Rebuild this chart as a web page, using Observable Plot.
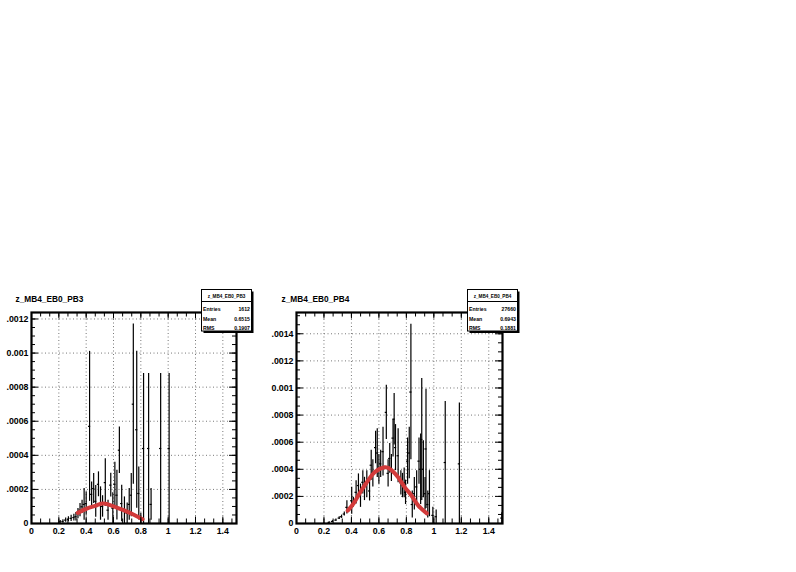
<!DOCTYPE html>
<html><head><meta charset="utf-8">
<script src="https://cdn.jsdelivr.net/npm/d3@7"></script>
<script src="https://cdn.jsdelivr.net/npm/@observablehq/plot@0.6"></script>
<style>
html,body{margin:0;padding:0;background:#fff;}
#canvas{position:relative;width:796px;height:572px;overflow:hidden;background:#fff;}
#canvas > svg{position:absolute;}
</style></head><body><div id="canvas"></div>
<script>
// ---------- axis ticks / labels ----------
const xTickValues = [0, 0.2, 0.4, 0.6, 0.8, 1, 1.2, 1.4];
const xTickLabels = ["0", "0.2", "0.4", "0.6", "0.8", "1", "1.2", "1.4"];
const pb3YTickValues = [0, 0.0002, 0.0004, 0.0006, 0.0008, 0.001, 0.0012];
const pb3YTickLabels = ["0", ".0002", ".0004", ".0006", ".0008", "0.001", ".0012"];
const pb4YTickValues = [0, 0.0002, 0.0004, 0.0006, 0.0008, 0.001, 0.0012, 0.0014];
const pb4YTickLabels = ["0", ".0002", ".0004", ".0006", ".0008", "0.001", ".0012", ".0014"];

// ---------- histogram z_MB4_EB0_PB3 ----------
const pb3X = [0.21,0.23,0.25,0.27,0.29,0.31,0.325,0.34,0.355,0.37,0.385,0.40,0.425,0.44,0.455,0.47,0.49,0.505,0.52,0.54,0.56,0.58,0.595,0.61,0.625,0.643,0.66,0.68,0.70,0.715,0.73,0.745,0.77,0.785,0.80,0.82,0.857,0.875,0.945,1.007];
const pb3Y = [0.000010,0.000012,0.000020,0.000025,0.000030,0.000035,0.000040,0.000058,0.000078,0.000098,0.000112,0.000117,0.00057,0.000171,0.000205,0.000130,0.000230,0.000117,0.000100,0.000240,0.000078,0.000225,0.000090,0.000230,0.000166,0.000430,0.000117,0.000078,0.000060,0.000112,0.000166,0.000700,0.000550,0.000176,0.000030,0.000440,0.000440,0.000112,0.000440,0.000440];
const pb3Err = [0.000008,0.00001,0.000012,0.000015,0.000018,0.00002,0.000025,0.00003,0.000039,0.000039,0.000093,0.000068,0.00044,0.000073,0.000088,0.000093,0.000073,0.000098,0.000063,0.00014,0.000059,0.00007,0.00009,0.00013,0.000146,0.000136,0.000107,0.000078,0.00006,0.000093,0.000127,0.00047,0.00046,0.000156,0.00003,0.00044,0.00044,0.000093,0.00044,0.00044];
const pb3FitX = [0.338,0.405,0.478,0.527,0.600,0.673,0.745,0.813];
const pb3FitY = [0.0000624,0.0000878,0.000107,0.000117,0.000101,0.000078,0.0000527,0.0000254];
const pb3Stats = [["Entries","1612"],["Mean","0.6515"],["RMS","0.1907"]];

// ---------- histogram z_MB4_EB0_PB4 ----------
const pb4X = [0.238,0.262,0.287,0.311,0.328,0.348,0.367,0.402,0.414,0.434,0.451,0.466,0.483,0.495,0.512,0.532,0.544,0.556,0.576,0.588,0.600,0.613,0.630,0.654,0.667,0.679,0.691,0.703,0.711,0.721,0.740,0.760,0.772,0.784,0.794,0.809,0.821,0.833,0.843,0.858,0.875,0.892,0.904,0.912,0.924,0.936,0.943,0.956,0.968,0.993,1.017,1.083,1.186,1.495];
const pb4Y = [0.000008,0.000015,0.000025,0.00004,0.00005,0.00007,0.000119,0.000168,0.000156,0.00023,0.00028,0.000205,0.000304,0.000255,0.00029,0.00024,0.00043,0.00037,0.00056,0.00052,0.0004,0.00044,0.00053,0.00082,0.00037,0.00048,0.00041,0.00063,0.00077,0.00056,0.0005,0.0003,0.00028,0.0003,0.00023,0.00046,0.00052,0.00097,0.00014,0.00022,0.00027,0.00046,0.0004,0.00062,0.0004,0.00022,0.00055,0.00014,0.00022,0.00006,0.00005,0.00045,0.00044,0.00004];
const pb4Err = [0.000005,0.000006,0.000008,0.00001,0.000012,0.000015,0.000049,0.0001,0.000037,0.000086,0.000086,0.000086,0.000086,0.000086,0.0001,0.000074,0.00011,0.0001,0.00012,0.00018,0.00011,0.0001,0.00018,0.0002,0.0001,0.00011,0.0001,0.00014,0.00019,0.00017,0.0002,0.00009,0.00009,0.00011,0.00009,0.00017,0.00019,0.0005,0.0001,0.00012,0.00012,0.00017,0.00026,0.00045,0.00021,0.00012,0.00044,0.0001,0.00017,0.00006,0.00005,0.00045,0.00045,0.00004];
const pb4FitX = [0.373,0.421,0.471,0.520,0.569,0.642,0.691,0.740,0.789,0.838,0.887,0.949];
const pb4FitY = [0.0000946,0.000156,0.000242,0.000316,0.000378,0.000415,0.000395,0.000341,0.000267,0.000205,0.000132,0.0000748];
const pb4Stats = [["Entries","27660"],["Mean","0.6943"],["RMS","0.1881"]];

const FONT = "'Liberation Sans', Arial, Helvetica, sans-serif";
const canvas = document.getElementById("canvas");

function panel(o) {
  const W = 265, H = 286, mL = 31, mR = o.mR, mT = 26, mB = 49;
  const fw = W - mL - mR, fh = H - mT - mB;
  const idx = d3.range(o.xs.length);
  const fidx = d3.range(o.fitX.length);
  const xMinor = d3.range(0, 1.5 + 1e-9, 0.2 / 3);
  const yMinor = d3.range(0, o.yMax + 1e-12, o.yMinorStep);
  const xGrid = xTickValues.filter(v => v > 0);
  const yGrid = o.yTicks.filter(v => v > 0);
  const hw = 0.008;
  const plot = Plot.plot({
    width: W, height: H,
    marginLeft: mL, marginRight: mR, marginTop: mT, marginBottom: mB,
    x: {domain: [0, 1.5], axis: null},
    y: {domain: [0, o.yMax], axis: null},
    style: {background: "transparent", fontFamily: FONT, overflow: "visible"},
    marks: [
      Plot.ruleX(xGrid, {x: d => d, stroke: "#777", strokeDasharray: "1,2.5"}),
      Plot.ruleY(yGrid, {y: d => d, stroke: "#777", strokeDasharray: "1,2.5"}),
      Plot.ruleX(idx, {x: i => o.xs[i], y1: i => Math.max(0, o.ys[i] - o.errs[i]), y2: i => Math.min(o.yMax, o.ys[i] + o.errs[i]), stroke: "black", strokeWidth: 1.2}),
      Plot.ruleY(idx, {y: i => o.ys[i], x1: i => o.xs[i] - hw, x2: i => o.xs[i] + hw, stroke: "black", strokeWidth: 1.2}),
      Plot.line(fidx, {x: i => o.fitX[i], y: i => o.fitY[i], stroke: "#d23a3a", strokeWidth: 4, curve: "natural"}),
      // ticks: bottom/top
      Plot.ruleX(xMinor, {x: d => d, insetTop: fh - 4.5, stroke: "black"}),
      Plot.ruleX(xTickValues, {x: d => d, insetTop: fh - 6.5, stroke: "black"}),
      Plot.ruleX(xMinor, {x: d => d, insetBottom: fh - 4.5, stroke: "black"}),
      Plot.ruleX(xTickValues, {x: d => d, insetBottom: fh - 6.5, stroke: "black"}),
      // ticks: left/right
      Plot.ruleY(yMinor, {y: d => d, insetRight: fw - 4, stroke: "black"}),
      Plot.ruleY(o.yTicks, {y: d => d, insetRight: fw - 7, stroke: "black"}),
      Plot.ruleY(yMinor, {y: d => d, insetLeft: fw - 4, stroke: "black"}),
      Plot.ruleY(o.yTicks, {y: d => d, insetLeft: fw - 7, stroke: "black"}),
      Plot.frame({stroke: "black", strokeWidth: 2.2}),
      Plot.text(xTickValues, {x: d => d, text: (d, i) => xTickLabels[i], frameAnchor: "bottom", lineAnchor: "top", dy: 4.5, fontSize: 8.8, fontWeight: "bold", fill: "black"}),
      Plot.text(o.yTicks, {y: d => d, text: (d, i) => o.yLabels[i], frameAnchor: "left", textAnchor: "end", dx: -3, fontSize: 8.8, fontWeight: "bold", fill: "black"})
    ]
  });
  plot.style.left = o.left + "px";
  plot.style.top = "286px";
  canvas.appendChild(plot);
}

panel({left: 0, mR: 29, xs: pb3X, ys: pb3Y, errs: pb3Err, fitX: pb3FitX, fitY: pb3FitY, yMax: 0.001238, yTicks: pb3YTickValues, yLabels: pb3YTickLabels, yMinorStep: 0.00005});
panel({left: 265, mR: 28, xs: pb4X, ys: pb4Y, errs: pb4Err, fitX: pb4FitX, fitY: pb4FitY, yMax: 0.001557, yTicks: pb4YTickValues, yLabels: pb4YTickLabels, yMinorStep: 0.0002 / 3});

// ---------- titles and statistics boxes ----------
const overlay = d3.select(canvas).append("svg")
  .attr("width", 796).attr("height", 572)
  .style("left", "0px").style("top", "0px")
  .attr("font-family", FONT).attr("font-weight", "bold");

function annot(ox, name, stats) {
  const g = overlay.append("g").attr("transform", `translate(${ox},0)`);
  g.append("text").attr("x", 15.5).attr("y", 302).attr("font-size", 8.3).text(name);
  g.append("rect").attr("x", 203.5).attr("y", 291.5).attr("width", 50).attr("height", 41.5).attr("fill", "black");
  g.append("rect").attr("x", 201.5).attr("y", 289.5).attr("width", 50).attr("height", 41.5).attr("fill", "white").attr("stroke", "black").attr("stroke-width", 1);
  g.append("line").attr("x1", 201.5).attr("x2", 251.5).attr("y1", 301.5).attr("y2", 301.5).attr("stroke", "black");
  g.append("text").attr("x", 226.5).attr("y", 297.5).attr("font-size", 4.6).attr("text-anchor", "middle").text(name);
  const base = [311, 320.8, 329.6];
  stats.forEach((s, i) => {
    g.append("text").attr("x", 203).attr("y", base[i]).attr("font-size", 5.2).text(s[0]);
    g.append("text").attr("x", 250).attr("y", base[i]).attr("font-size", 5.2).attr("text-anchor", "end").text(s[1]);
  });
}
annot(0, "z_MB4_EB0_PB3", pb3Stats);
annot(266, "z_MB4_EB0_PB4", pb4Stats);
</script></body></html>
